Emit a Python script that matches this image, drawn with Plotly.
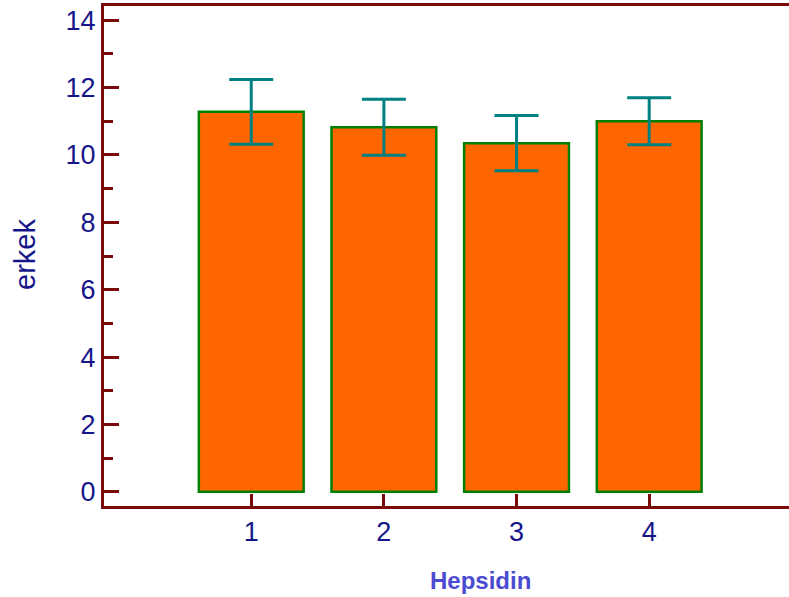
import plotly.graph_objects as go

# Hepsidin groups and mean "erkek" values with their error half-widths
groups = [1, 2, 3, 4]
means = [11.28, 10.82, 10.35, 11.00]
errors = [0.96, 0.83, 0.82, 0.70]
y_ticks = [0, 2, 4, 6, 8, 10, 12, 14]

AXIS = "#7a0a0a"
LABEL = "#16168a"

fig = go.Figure()
fig.add_trace(go.Bar(
    x=groups,
    y=means,
    width=0.79,
    marker=dict(color="#ff6600", line=dict(color="#008000", width=2.5)),
    error_y=dict(type="data", array=errors, visible=True,
                 color="#008080", thickness=3, width=22),
    showlegend=False,
))

fig.update_layout(
    width=789, height=597,
    margin=dict(l=104, r=0, t=6, b=91),
    paper_bgcolor="white", plot_bgcolor="white",
    font=dict(family="Liberation Sans, Arial, sans-serif", size=27, color=LABEL),
    xaxis=dict(
        range=[-0.11, 5.054],
        tickvals=groups,
        ticks="inside", ticklen=12, tickwidth=3, tickcolor=AXIS,
        showline=True, linecolor=AXIS, linewidth=3, mirror=True,
        showgrid=False, zeroline=False,
        tickfont=dict(size=27, color=LABEL),
    ),
    yaxis=dict(
        range=[-0.42, 14.42],
        tickvals=y_ticks,
        ticks="inside", ticklen=15, tickwidth=3, tickcolor=AXIS,
        minor=dict(ticks="inside", ticklen=9, tickwidth=3, tickcolor=AXIS,
                   dtick=1, tick0=0),
        showline=True, linecolor=AXIS, linewidth=3,
        showgrid=False, zeroline=False,
        tickfont=dict(size=27, color=LABEL),
    ),
    annotations=[
        dict(text="<b>Hepsidin</b>", x=480, y=597 - 580, xref="paper", yref="paper",
             showarrow=False, font=dict(size=24, color="#4b4bd2")),
        dict(text="erkek", textangle=-90, x=25, y=597 - 255, xref="paper", yref="paper",
             showarrow=False, font=dict(size=29, color=LABEL)),
    ],
)

# place the axis-title annotations in pixel terms relative to the full page
plot_w = 789 - 104
plot_h = 597 - 6 - 91
for ann in fig.layout.annotations:
    ann.x = (ann.x - 104) / plot_w
    ann.y = (ann.y - 91) / plot_h
    ann.xanchor = "center"
    ann.yanchor = "middle"

fig.write_html("out.html")
